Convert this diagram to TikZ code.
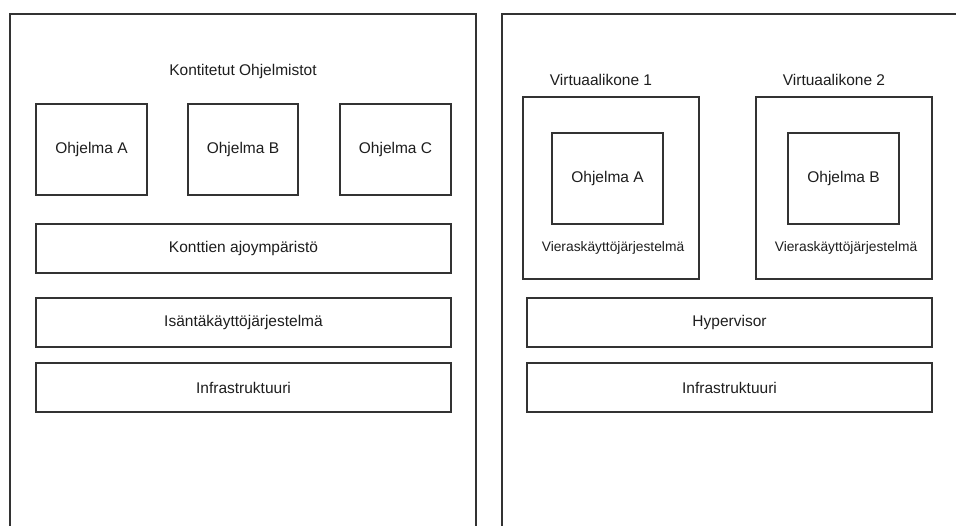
\documentclass[tikz,border=0pt]{standalone}
\usepackage{fontspec}
\setmainfont{Liberation Sans}
\definecolor{linec}{HTML}{333333}
\definecolor{textc}{HTML}{1E1E1E}
\begin{document}
\begin{tikzpicture}[x=1pt,y=-1pt,
  frame/.style={draw=linec,line width=1.6pt},
  boxn/.style={draw=linec,line width=1.6pt,fill=white,inner sep=0pt,text=textc,font=\fontsize{15.5}{18}\selectfont},
  lbl/.style={inner sep=0pt,text=textc,font=\fontsize{15.5}{18}\selectfont},
  slbl/.style={inner sep=0pt,text=textc,font=\fontsize{13.8}{16}\selectfont}]
\useasboundingbox[fill=white] (0,0) rectangle (956,525);
% left frame
\coordinate (lfb) at (10,526);
\coordinate (lft) at (10,14);
\coordinate (lrt) at (476,14);
\coordinate (lrb) at (476,526);
\draw[frame] (lfb) -- (lft) -- (lrt) -- (lrb);
\node[lbl] (title) at (243,71) {Kontitetut Ohjelmistot};
\node[boxn,minimum width=111pt,minimum height=91pt] (progA) at (91.5,149.5) {Ohjelma A};
\node[boxn,minimum width=110pt,minimum height=91pt] (progB) at (243,149.5) {Ohjelma B};
\node[boxn,minimum width=111pt,minimum height=91pt] (progC) at (395.5,149.5) {Ohjelma C};
\node[boxn,minimum width=415pt,minimum height=49pt] (runtime) at (243.5,248.5) {Konttien ajoympäristö};
\node[boxn,minimum width=415pt,minimum height=49pt] (hostos) at (243.5,322.5) {Isäntäkäyttöjärjestelmä};
\node[boxn,minimum width=415pt,minimum height=49pt] (infraL) at (243.5,387.5) {Infrastruktuuri};
% right frame
\coordinate (rfb) at (502,526);
\coordinate (rft) at (502,14);
\coordinate (rrt) at (958,14);
\draw[frame] (rfb) -- (rft) -- (rrt);
\node[lbl] (vm1lbl) at (601,80) {Virtuaalikone 1};
\node[lbl] (vm2lbl) at (834,80) {Virtuaalikone 2};
\node[boxn,minimum width=176pt,minimum height=182pt] (vm1) at (611,188) {};
\node[boxn,minimum width=176pt,minimum height=182pt] (vm2) at (844,188) {};
\node[boxn,minimum width=111pt,minimum height=91pt] (vprogA) at (607.5,178.5) {Ohjelma A};
\node[boxn,minimum width=111pt,minimum height=91pt] (vprogB) at (843.5,178.5) {Ohjelma B};
\node[slbl] (guest1) at (613,248) {Vieraskäyttöjärjestelmä};
\node[slbl] (guest2) at (846,248) {Vieraskäyttöjärjestelmä};
\node[boxn,minimum width=405pt,minimum height=49pt] (hyper) at (729.5,322.5) {Hypervisor};
\node[boxn,minimum width=405pt,minimum height=49pt] (infraR) at (729.5,387.5) {Infrastruktuuri};
\end{tikzpicture}
\end{document}
